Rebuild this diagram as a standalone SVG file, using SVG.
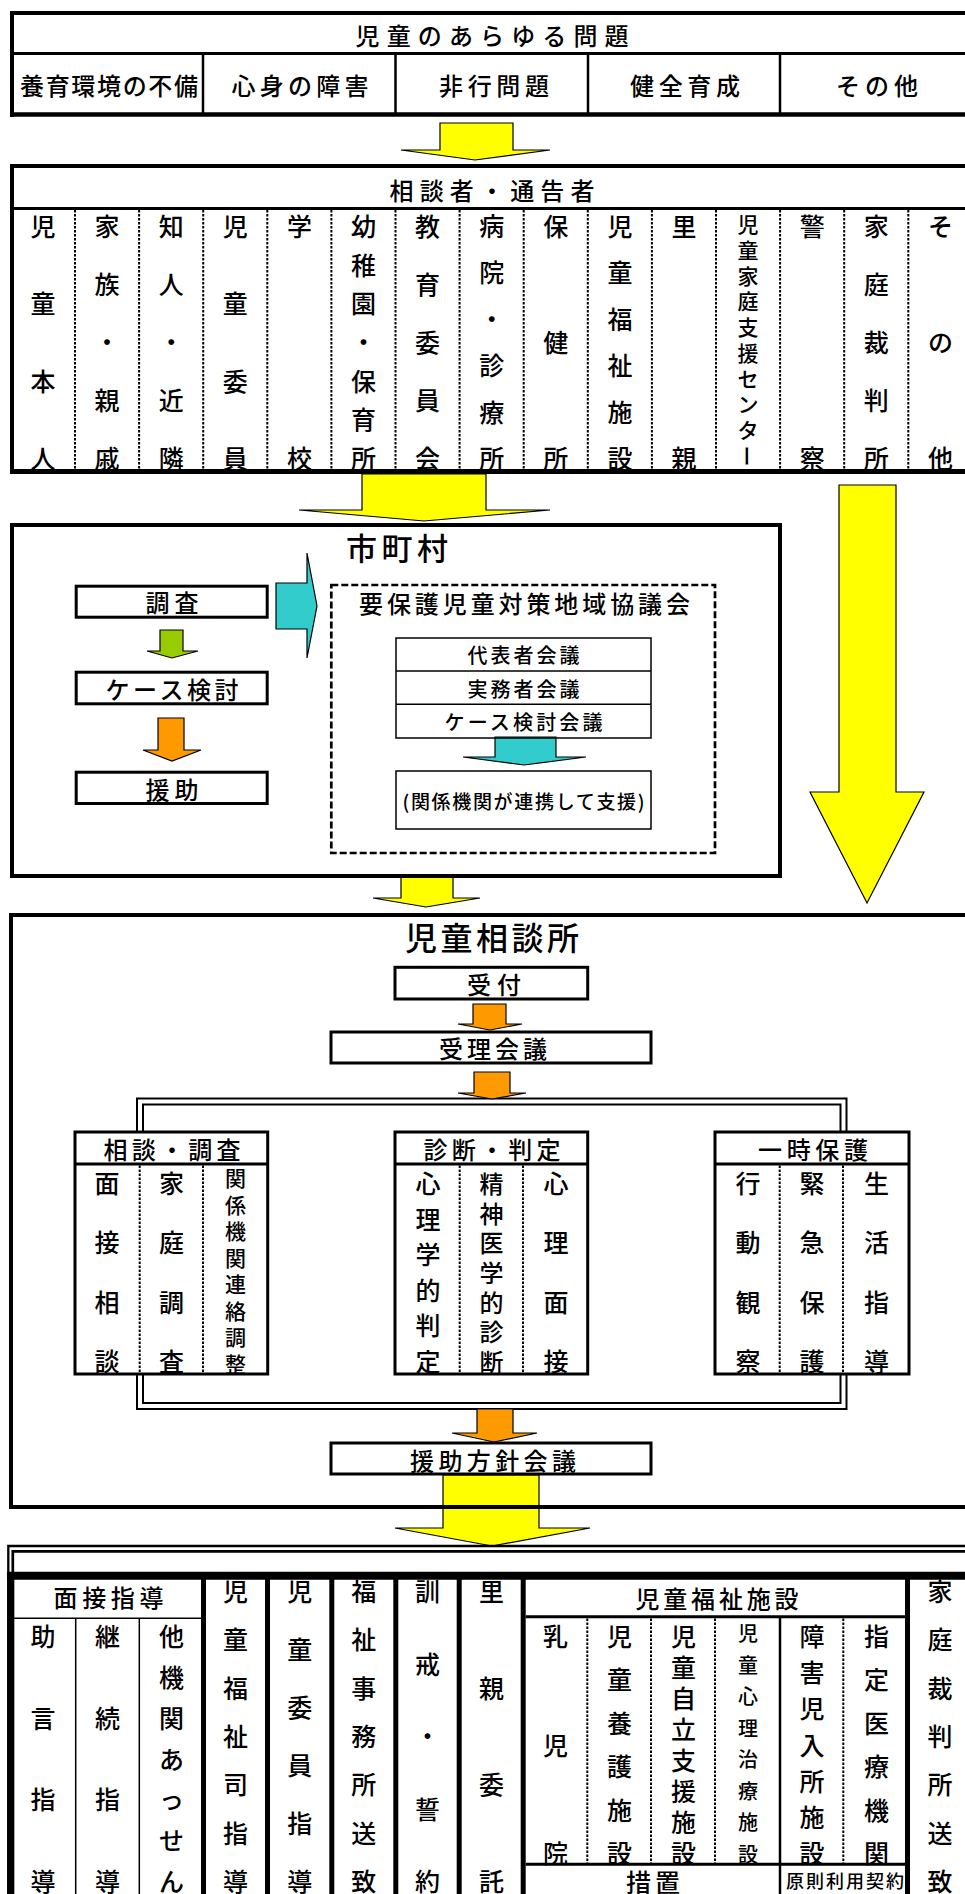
<svg xmlns="http://www.w3.org/2000/svg" width="965" height="1894" viewBox="0 0 965 1894">
<style>
.t{font-family:"Noto Sans CJK JP","Noto Sans",sans-serif;font-weight:500;fill:#000;text-anchor:middle;dominant-baseline:central}
tspan{dominant-baseline:central}
.s18{font-size:18px}.s19{font-size:19px}.s20{font-size:20px}.s21{font-size:21px}.s24{font-size:24px}.s25{font-size:25px}.s31{font-size:31px}.s32{font-size:32px}
.ln{stroke:#000;fill:none}
.dot{stroke:#000;stroke-width:2;stroke-dasharray:2.5 1.5;fill:none}
.box{fill:#fff;stroke:#000}
.arr{stroke:#000;stroke-width:1.2}
.y{fill:#FFFF00}.g{fill:#99CC00}.o{fill:#FF9900}.c{fill:#33CCCC}
</style>
<rect width="965" height="1894" fill="#fff"/>

<g id="connectors">
<path d="M140,1132 V1101.5 H843.5 V1132" stroke="#000" stroke-width="8" fill="none"/>
<path d="M140,1132 V1101.5 H843.5 V1132" stroke="#fff" stroke-width="4" fill="none"/>
<path d="M140,1374 V1406 H843.5 V1374" stroke="#000" stroke-width="8" fill="none"/>
<path d="M140,1374 V1406 H843.5 V1374" stroke="#fff" stroke-width="4" fill="none"/>
<polygon class="arr y" points="440,123 513,123 513,150 550,150 475,160 401,150 440,150"/>
<polygon class="arr y" points="362,474 486,474 486,510 550,510 424,521 299,510 362,510"/>
<polygon class="arr y" points="839,485 896,485 896,792 924,792 867,903 810,792 839,792"/>
<polygon class="arr y" points="401,877 453,877 453,898 480,898 426,907 373,898 401,898"/>
<polygon class="arr y" points="443,1475 539,1475 539,1528 590,1528 492,1546 395,1528 443,1528"/>
<polygon class="arr g" points="160,630 183,630 183,651 198,651 172,658 147,651 160,651"/>
<polygon class="arr o" points="158,718 184,718 184,750 201,750 172,761 143,750 158,750"/>
<polygon class="arr c" points="276,583 307,583 307,553 317,606 307,658 307,629 276,629"/>
<polygon class="arr c" points="495,737 556,737 556,757 586,757 524,765 463,757 495,757"/>
<polygon class="arr o" points="473,1004 506,1004 506,1024 522,1024 490,1030 458,1024 473,1024"/>
<polygon class="arr o" points="474,1072 510,1072 510,1093 526,1093 492,1099 458,1093 474,1093"/>
<polygon class="arr o" points="477,1409 513,1409 513,1433 537,1433 494,1442 452,1433 477,1433"/>
</g>

<g id="problems">
<text class="t s24" x="492" y="34" textLength="273">児童のあらゆる問題</text>
<text class="t s24" x="109" y="84" textLength="178">養育環境の不備</text>
<text class="t s24" x="300" y="84" textLength="137">心身の障害</text>
<text class="t s24" x="494" y="84" textLength="110">非行問題</text>
<text class="t s24" x="685" y="84" textLength="110">健全育成</text>
<text class="t s24" x="877" y="84" textLength="82">その他</text>
<path class="ln" stroke-width="4" d="M10,13 H965 M12,11 V117"/>
<path class="ln" stroke-width="3" d="M12,53.5 H965"/>
<path class="ln" stroke-width="4.5" d="M10,114.5 H965"/>
<path class="ln" stroke-width="2.5" d="M203,55 V113 M395.5,55 V113 M588,55 V113 M780,55 V113"/>
</g>

<g id="consulters">
<text class="t s24" x="492" y="189" textLength="205">相談者・通告者</text>
<text class="t s25"><tspan x="43" y="225">児</tspan><tspan x="43" y="302.3">童</tspan><tspan x="43" y="379.7">本</tspan><tspan x="43" y="457">人</tspan></text>
<text class="t s25"><tspan x="107.1" y="225">家</tspan><tspan x="107.1" y="283">族</tspan><tspan x="107.1" y="341">・</tspan><tspan x="107.1" y="399">親</tspan><tspan x="107.1" y="457">戚</tspan></text>
<text class="t s25"><tspan x="171.2" y="225">知</tspan><tspan x="171.2" y="283">人</tspan><tspan x="171.2" y="341">・</tspan><tspan x="171.2" y="399">近</tspan><tspan x="171.2" y="457">隣</tspan></text>
<text class="t s25"><tspan x="235.3" y="225">児</tspan><tspan x="235.3" y="302.3">童</tspan><tspan x="235.3" y="379.7">委</tspan><tspan x="235.3" y="457">員</tspan></text>
<text class="t s25"><tspan x="299.4" y="225">学</tspan><tspan x="299.4" y="457">校</tspan></text>
<text class="t s25"><tspan x="363.5" y="225">幼</tspan><tspan x="363.5" y="263.7">稚</tspan><tspan x="363.5" y="302.3">園</tspan><tspan x="363.5" y="341">・</tspan><tspan x="363.5" y="379.7">保</tspan><tspan x="363.5" y="418.3">育</tspan><tspan x="363.5" y="457">所</tspan></text>
<text class="t s25"><tspan x="427.6" y="225">教</tspan><tspan x="427.6" y="283">育</tspan><tspan x="427.6" y="341">委</tspan><tspan x="427.6" y="399">員</tspan><tspan x="427.6" y="457">会</tspan></text>
<text class="t s25"><tspan x="491.7" y="225">病</tspan><tspan x="491.7" y="271.4">院</tspan><tspan x="491.7" y="317.8">・</tspan><tspan x="491.7" y="364.2">診</tspan><tspan x="491.7" y="410.6">療</tspan><tspan x="491.7" y="457">所</tspan></text>
<text class="t s25"><tspan x="555.8" y="225">保</tspan><tspan x="555.8" y="341">健</tspan><tspan x="555.8" y="457">所</tspan></text>
<text class="t s25"><tspan x="619.9" y="225">児</tspan><tspan x="619.9" y="271.4">童</tspan><tspan x="619.9" y="317.8">福</tspan><tspan x="619.9" y="364.2">祉</tspan><tspan x="619.9" y="410.6">施</tspan><tspan x="619.9" y="457">設</tspan></text>
<text class="t s25"><tspan x="684" y="225">里</tspan><tspan x="684" y="457">親</tspan></text>
<text class="t s21"><tspan x="748.1" y="223">児</tspan><tspan x="748.1" y="248.8">童</tspan><tspan x="748.1" y="274.6">家</tspan><tspan x="748.1" y="300.3">庭</tspan><tspan x="748.1" y="326.1">支</tspan><tspan x="748.1" y="351.9">援</tspan><tspan x="748.1" y="377.7">セ</tspan><tspan x="748.1" y="403.4">ン</tspan><tspan x="748.1" y="429.2">タ</tspan></text>
<text class="t s21" transform="translate(748.1,456) rotate(90)" x="0" y="0">ー</text>
<text class="t s25"><tspan x="812.2" y="225">警</tspan><tspan x="812.2" y="457">察</tspan></text>
<text class="t s25"><tspan x="876.3" y="225">家</tspan><tspan x="876.3" y="283">庭</tspan><tspan x="876.3" y="341">裁</tspan><tspan x="876.3" y="399">判</tspan><tspan x="876.3" y="457">所</tspan></text>
<text class="t s25"><tspan x="940.4" y="225">そ</tspan><tspan x="940.4" y="341">の</tspan><tspan x="940.4" y="457">他</tspan></text>
<path class="dot" d="M75,210 V469 M139.1,210 V469 M203.2,210 V469 M267.3,210 V469 M331.4,210 V469 M395.5,210 V469 M459.6,210 V469 M523.7,210 V469 M587.8,210 V469 M651.9,210 V469 M716,210 V469 M780.1,210 V469 M844.2,210 V469 M908.3,210 V469"/>
<path class="ln" stroke-width="4" d="M10,166 H965 M12,164 V474"/>
<path class="ln" stroke-width="3" d="M12,208.5 H965"/>
<path class="ln" stroke-width="5" d="M10,471.5 H965"/>
</g>

<g id="municipality">
<rect x="12" y="525" width="768" height="351" fill="none" stroke="#000" stroke-width="4"/>
<text class="t s31" x="397" y="546" textLength="102">市町村</text>
</g>
<g id="survey">
<rect class="box" x="76.2" y="586.2" width="191" height="31" stroke-width="3"/>
<text class="t s24" x="172" y="601.5" textLength="53">調査</text>
</g>
<g id="case-review">
<rect class="box" x="76.2" y="672.2" width="191" height="31.6" stroke-width="3"/>
<text class="t s24" x="172" y="688" textLength="133">ケース検討</text>
</g>
<g id="support">
<rect class="box" x="76.2" y="772.2" width="191" height="31.3" stroke-width="3"/>
<text class="t s24" x="172" y="788" textLength="53">援助</text>
</g>
<g id="council">
<rect x="331.3" y="585" width="383.7" height="268" fill="none" stroke="#000" stroke-width="2.7" stroke-dasharray="7 3"/>
<text class="t s24" x="524.5" y="602.5" textLength="331">要保護児童対策地域協議会</text>
<rect x="396" y="638" width="255" height="100" fill="none" stroke="#000" stroke-width="1.5"/>
<path class="ln" stroke-width="1.5" d="M396,671 H651 M396,704.3 H651"/>
<text class="t s20" x="523.5" y="654.5" textLength="112">代表者会議</text>
<text class="t s20" x="523.5" y="688" textLength="112">実務者会議</text>
<text class="t s20" x="523.5" y="721" textLength="158">ケース検討会議</text>
</g>
<g id="cooperation">
<rect class="box" x="396" y="771" width="255" height="58" stroke-width="1.5"/>
<text class="t s19" x="523.5" y="800" textLength="242">(関係機関が連携して支援)</text>
</g>

<g id="guidance-center">
<rect x="11" y="915" width="970" height="592" fill="none" stroke="#000" stroke-width="4"/>
<text class="t s32" x="492" y="936" textLength="174">児童相談所</text>
</g>
<g id="reception">
<rect class="box" x="395" y="967.3" width="192.7" height="31.7" stroke-width="3"/>
<text class="t s24" x="494" y="983" textLength="54">受付</text>
</g>
<g id="intake-meeting">
<rect class="box" x="331" y="1032" width="320" height="31" stroke-width="3"/>
<text class="t s24" x="493" y="1047" textLength="108">受理会議</text>
</g>

<g id="consult-survey">
<rect class="box" x="75" y="1132" width="192.7" height="242" stroke-width="3"/>
<text class="t s24" x="172" y="1148.5" textLength="137">相談・調査</text>
<text class="t s25"><tspan x="107" y="1182">面</tspan><tspan x="107" y="1241.3">接</tspan><tspan x="107" y="1300.7">相</tspan><tspan x="107" y="1360">談</tspan></text>
<text class="t s25"><tspan x="171.5" y="1182">家</tspan><tspan x="171.5" y="1241.3">庭</tspan><tspan x="171.5" y="1300.7">調</tspan><tspan x="171.5" y="1360">査</tspan></text>
<text class="t s21"><tspan x="235.5" y="1177">関</tspan><tspan x="235.5" y="1203.6">係</tspan><tspan x="235.5" y="1230.1">機</tspan><tspan x="235.5" y="1256.7">関</tspan><tspan x="235.5" y="1283.3">連</tspan><tspan x="235.5" y="1309.9">絡</tspan><tspan x="235.5" y="1336.4">調</tspan><tspan x="235.5" y="1363">整</tspan></text>
<path class="ln" stroke-width="3" d="M75,1164 H267.7"/>
<path class="dot" d="M139.7,1165.5 V1372.5 M203,1165.5 V1372.5"/>
</g>

<g id="diagnosis">
<rect class="box" x="395" y="1132" width="192.7" height="242" stroke-width="3"/>
<text class="t s24" x="492" y="1148.5" textLength="137">診断・判定</text>
<text class="t s25"><tspan x="428" y="1182">心</tspan><tspan x="428" y="1217.6">理</tspan><tspan x="428" y="1253.2">学</tspan><tspan x="428" y="1288.8">的</tspan><tspan x="428" y="1324.4">判</tspan><tspan x="428" y="1360">定</tspan></text>
<text class="t s24"><tspan x="491.5" y="1182">精</tspan><tspan x="491.5" y="1211.7">神</tspan><tspan x="491.5" y="1241.3">医</tspan><tspan x="491.5" y="1271">学</tspan><tspan x="491.5" y="1300.7">的</tspan><tspan x="491.5" y="1330.3">診</tspan><tspan x="491.5" y="1360">断</tspan></text>
<text class="t s25"><tspan x="556" y="1182">心</tspan><tspan x="556" y="1241.3">理</tspan><tspan x="556" y="1300.7">面</tspan><tspan x="556" y="1360">接</tspan></text>
<path class="ln" stroke-width="3" d="M395,1164 H587.7"/>
<path class="dot" d="M459.7,1165.5 V1372.5 M523,1165.5 V1372.5"/>
</g>

<g id="temporary-protection">
<rect class="box" x="715" y="1132" width="194" height="242" stroke-width="3"/>
<text class="t s24" x="813" y="1148.5" textLength="110">一時保護</text>
<text class="t s25"><tspan x="748" y="1182">行</tspan><tspan x="748" y="1241.3">動</tspan><tspan x="748" y="1300.7">観</tspan><tspan x="748" y="1360">察</tspan></text>
<text class="t s25"><tspan x="812" y="1182">緊</tspan><tspan x="812" y="1241.3">急</tspan><tspan x="812" y="1300.7">保</tspan><tspan x="812" y="1360">護</tspan></text>
<text class="t s25"><tspan x="876.5" y="1182">生</tspan><tspan x="876.5" y="1241.3">活</tspan><tspan x="876.5" y="1300.7">指</tspan><tspan x="876.5" y="1360">導</tspan></text>
<path class="ln" stroke-width="3" d="M715,1164 H909"/>
<path class="dot" d="M779.7,1165.5 V1372.5 M843,1165.5 V1372.5"/>
</g>

<g id="policy-meeting">
<rect class="box" x="331" y="1443" width="320" height="31" stroke-width="3"/>
<text class="t s24" x="493" y="1459" textLength="166">援助方針会議</text>
</g>

<g id="outcomes">
<text class="t s24" x="108.5" y="1596" textLength="110">面接指導</text>
<text class="t s24" x="717" y="1597" textLength="163">児童福祉施設</text>
<text class="t s25"><tspan x="43" y="1635">助</tspan><tspan x="43" y="1716.7">言</tspan><tspan x="43" y="1798.3">指</tspan><tspan x="43" y="1880">導</tspan></text>
<text class="t s25"><tspan x="107.5" y="1635">継</tspan><tspan x="107.5" y="1716.7">続</tspan><tspan x="107.5" y="1798.3">指</tspan><tspan x="107.5" y="1880">導</tspan></text>
<text class="t s25"><tspan x="171.5" y="1635">他</tspan><tspan x="171.5" y="1675.8">機</tspan><tspan x="171.5" y="1716.7">関</tspan><tspan x="171.5" y="1757.5">あ</tspan><tspan x="171.5" y="1798.3">っ</tspan><tspan x="171.5" y="1839.2">せ</tspan><tspan x="171.5" y="1880">ん</tspan></text>
<text class="t s25"><tspan x="235.5" y="1590">児</tspan><tspan x="235.5" y="1638.3">童</tspan><tspan x="235.5" y="1686.7">福</tspan><tspan x="235.5" y="1735">祉</tspan><tspan x="235.5" y="1783.3">司</tspan><tspan x="235.5" y="1831.7">指</tspan><tspan x="235.5" y="1880">導</tspan></text>
<text class="t s25"><tspan x="299.7" y="1590">児</tspan><tspan x="299.7" y="1648">童</tspan><tspan x="299.7" y="1706">委</tspan><tspan x="299.7" y="1764">員</tspan><tspan x="299.7" y="1822">指</tspan><tspan x="299.7" y="1880">導</tspan></text>
<text class="t s25"><tspan x="363.8" y="1590">福</tspan><tspan x="363.8" y="1638.3">祉</tspan><tspan x="363.8" y="1686.7">事</tspan><tspan x="363.8" y="1735">務</tspan><tspan x="363.8" y="1783.3">所</tspan><tspan x="363.8" y="1831.7">送</tspan><tspan x="363.8" y="1880">致</tspan></text>
<text class="t s25"><tspan x="427.5" y="1590">訓</tspan><tspan x="427.5" y="1662.5">戒</tspan><tspan x="427.5" y="1735">・</tspan><tspan x="427.5" y="1807.5">誓</tspan><tspan x="427.5" y="1880">約</tspan></text>
<text class="t s25"><tspan x="491.5" y="1590">里</tspan><tspan x="491.5" y="1686.7">親</tspan><tspan x="491.5" y="1783.3">委</tspan><tspan x="491.5" y="1880">託</tspan></text>
<text class="t s25"><tspan x="555.5" y="1635">乳</tspan><tspan x="555.5" y="1743.5">児</tspan><tspan x="555.5" y="1852">院</tspan></text>
<text class="t s25"><tspan x="619.5" y="1635">児</tspan><tspan x="619.5" y="1678.4">童</tspan><tspan x="619.5" y="1721.8">養</tspan><tspan x="619.5" y="1765.2">護</tspan><tspan x="619.5" y="1808.6">施</tspan><tspan x="619.5" y="1852">設</tspan></text>
<text class="t s25"><tspan x="683.5" y="1635">児</tspan><tspan x="683.5" y="1666">童</tspan><tspan x="683.5" y="1697">自</tspan><tspan x="683.5" y="1728">立</tspan><tspan x="683.5" y="1759">支</tspan><tspan x="683.5" y="1790">援</tspan><tspan x="683.5" y="1821">施</tspan><tspan x="683.5" y="1852">設</tspan></text>
<text class="t s20"><tspan x="748" y="1632">児</tspan><tspan x="748" y="1663.6">童</tspan><tspan x="748" y="1695.1">心</tspan><tspan x="748" y="1726.7">理</tspan><tspan x="748" y="1758.3">治</tspan><tspan x="748" y="1789.9">療</tspan><tspan x="748" y="1821.4">施</tspan><tspan x="748" y="1853">設</tspan></text>
<text class="t s25"><tspan x="812" y="1635">障</tspan><tspan x="812" y="1671.2">害</tspan><tspan x="812" y="1707.3">児</tspan><tspan x="812" y="1743.5">入</tspan><tspan x="812" y="1779.7">所</tspan><tspan x="812" y="1815.8">施</tspan><tspan x="812" y="1852">設</tspan></text>
<text class="t s25"><tspan x="876.5" y="1635">指</tspan><tspan x="876.5" y="1678.4">定</tspan><tspan x="876.5" y="1721.8">医</tspan><tspan x="876.5" y="1765.2">療</tspan><tspan x="876.5" y="1808.6">機</tspan><tspan x="876.5" y="1852">関</tspan></text>
<text class="t s25"><tspan x="940" y="1590">家</tspan><tspan x="940" y="1638.3">庭</tspan><tspan x="940" y="1686.7">裁</tspan><tspan x="940" y="1735">判</tspan><tspan x="940" y="1783.3">所</tspan><tspan x="940" y="1831.7">送</tspan><tspan x="940" y="1880">致</tspan></text>
<text class="t s25" x="653" y="1881" textLength="54">措置</text>
<text class="t s18" x="845" y="1880" textLength="118">原則利用契約</text>
<path class="ln" stroke-width="2.3" d="M8.3,1894 V1546 H965"/>
<path class="ln" stroke-width="2.7" d="M12.8,1894 V1551.3 H965"/>
<path class="ln" stroke-width="8" d="M7,1575.8 H965"/>
<path class="ln" stroke-width="7" d="M10.7,1572 V1894"/>
<path class="ln" stroke-width="5" d="M203.5,1576 V1894 M267.5,1576 V1894 M331.8,1576 V1894 M395.8,1576 V1894 M459.2,1576 V1894 M523.2,1576 V1894 M907.5,1576 V1894"/>
<path class="ln" stroke-width="1.5" d="M14,1618.3 H201 M75.7,1618.3 V1894 M139.3,1618.3 V1894"/>
<path class="ln" stroke-width="3" d="M525.7,1616.7 H905 M525.7,1864.3 H905"/>
<path class="ln" stroke-width="2.5" d="M780,1618 V1894"/>
<path class="dot" d="M587.3,1618.5 V1863 M651,1618.5 V1863 M715,1618.5 V1863 M843.3,1618.5 V1863"/>
</g>
</svg>
